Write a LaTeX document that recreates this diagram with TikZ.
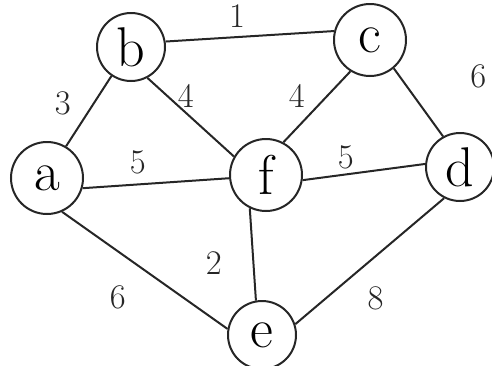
\documentclass[tikz,border=0pt]{standalone}
\usepackage{tikz}
\usetikzlibrary{positioning}

\begin{document}
\begin{tikzpicture}[
    x=0.5pt, y=-0.5pt,
    vertex/.style={draw=black!85, circle, line width=1pt,
                minimum size=34pt, inner sep=0pt,
                font=\fontsize{28}{28}\selectfont},
    link/.style={draw=black!85, line width=1pt},
    wt/.style={font=\LARGE, text=black!85}
  ]
  \useasboundingbox (0,0) rectangle (492,365);
  \node[vertex, minimum size=36pt] (a) at (47,178)  {a};
  \node[vertex] (b) at (131,47)  {b};
  \node[vertex, minimum size=36pt] (c) at (370,40)  {c};
  \node[vertex, minimum size=36pt] (f) at (266,175) {f};
  \node[vertex] (d) at (460,167) {d};
  \node[vertex] (e) at (262,335) {e};
  \draw[link] (b.9) -- node[wt, xshift=-6.4pt, yshift=10pt]{1} (c.166);
  \draw[link] (a.59) -- node[wt, xshift=-13pt, yshift=4pt]{3} (b.236);
  \draw[link] (b.298) -- node[wt, xshift=-2.5pt, yshift=10.5pt]{4} (f.150);
  \draw[link] (f.62) -- node[wt, xshift=-10pt, yshift=5.5pt]{4} (c.238);
  \draw[link] (c.310) -- node[wt, xshift=30pt, yshift=12.8pt]{6} (d.119);
  \draw[link] (a.-16) -- node[wt, xshift=-9pt, yshift=10.2pt]{5} (f.185);
  \draw[link] (f.-8) -- node[wt, xshift=-9pt, yshift=7.5pt]{5} (d.175);
  \draw[link] (a.-66) -- node[wt, xshift=-13.5pt, yshift=-13.7pt]{6} (e.170);
  \draw[link] (e.100) -- node[wt, xshift=-19.5pt, yshift=-4.2pt]{2} (f.244);
  \draw[link] (e.18) -- node[wt, xshift=2.9pt, yshift=-18.7pt]{8} (d.243);
\end{tikzpicture}
\end{document}
